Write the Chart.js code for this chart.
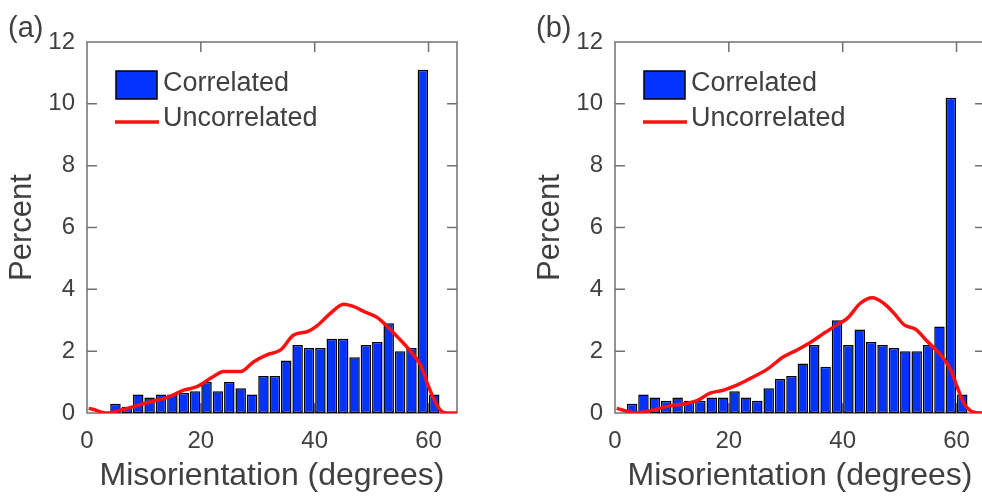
<!DOCTYPE html>
<html>
<head>
<meta charset="utf-8">
<script src="https://cdn.jsdelivr.net/npm/chart.js@4/dist/chart.umd.min.js"></script>
<style>
  html, body { margin: 0; padding: 0; background: #fff; overflow: hidden; width: 982px; height: 497px; }
  canvas { position: absolute; top: 0; }
  #panelA { left: 0; }
  #panelB { left: 528px; }
</style>
</head>
<body>
<canvas id="panelA" width="491" height="497"></canvas>
<canvas id="panelB" width="491" height="497"></canvas>
<script>
// Bin centres (degrees), 2-degree bins
const binCenters = [1, 3, 5, 7, 9, 11, 13, 15, 17, 19, 21, 23, 25, 27, 29, 31,
                    33, 35, 37, 39, 41, 43, 45, 47, 49, 51, 53, 55, 57, 59, 61]

// Panel (a) correlated histogram (percent)
const correlatedA = [0, 0, 0.3, 0.2, 0.6, 0.5, 0.6, 0.6, 0.65, 0.7, 1.0, 0.7, 1.0, 0.8, 0.6, 1.2,
                     1.2, 1.7, 2.2, 2.1, 2.1, 2.4, 2.4, 1.8, 2.2, 2.3, 2.9, 2.0, 2.1, 11.1, 0.6]
// Panel (a) uncorrelated curve
const uncorrXA = [0.3, 1, 3.5, 6.5, 10.5, 14.5, 17, 19.3, 22.2, 24, 27, 29.3, 31.6, 34, 36.3, 38.7,
                  40.4, 42.8, 45.1, 46.9, 48.7, 50.7, 52.2, 54.5, 56.9, 58.6, 59.8, 61, 62.4, 63.3, 65]
const uncorrYA = [0.15, 0.12, 0.0, 0.12, 0.33, 0.53, 0.74, 0.85, 1.18, 1.34, 1.34, 1.66, 1.88, 2.04, 2.52, 2.63,
                  2.82, 3.23, 3.52, 3.44, 3.28, 3.12, 2.9, 2.47, 1.98, 1.55, 0.96, 0.42, 0.04, 0, 0]

// Panel (b) correlated histogram (percent)
const correlatedB = [0, 0.3, 0.6, 0.5, 0.4, 0.5, 0.4, 0.4, 0.5, 0.5, 0.7, 0.5, 0.4, 0.8, 1.1, 1.2,
                     1.6, 2.2, 1.5, 3.0, 2.2, 2.7, 2.3, 2.2, 2.1, 2.0, 2.0, 2.2, 2.8, 10.2, 0.6]
// Panel (b) uncorrelated curve
const uncorrXB = [0.3, 3.8, 6.75, 9.7, 12.6, 14.4, 16.7, 19.1, 21.4, 23.8, 26.7, 29.6, 32, 34.3, 36.7, 39,
                  40.8, 43.1, 45.2, 47.2, 49, 50.8, 52.8, 54.9, 57.2, 59, 60.1, 61.3, 62.8, 64.3, 65]
const uncorrYB = [0.15, 0, 0.1, 0.23, 0.31, 0.4, 0.64, 0.74, 0.9, 1.12, 1.41, 1.82, 2.04, 2.28, 2.58, 2.85,
                  3.06, 3.55, 3.73, 3.55, 3.23, 2.85, 2.71, 2.31, 1.88, 1.39, 0.85, 0.31, 0.04, 0, 0]

const xTicks = [0, 20, 40, 60]
const yTicks = [0, 2, 4, 6, 8, 10, 12]

// Styling
const barBlue = '#0433ff'
const lineRed = '#ff1010'
const axisColor = '#707070'
const textColor = '#404040'
const fontFamily = 'Liberation Sans, Arial, Helvetica, sans-serif'

// Box around the axes with inward ticks on all four sides
const framePlugin = {
    id: 'frame',
    beforeDatasetsDraw(chart) {
        const ctx = chart.ctx
        const a = chart.chartArea
        const xs = chart.scales.x
        const ys = chart.scales.y
        const len = 10
        ctx.save()
        ctx.strokeStyle = axisColor
        ctx.lineWidth = 1.5
        ctx.strokeRect(a.left, a.top, a.right - a.left, a.bottom - a.top)
        ctx.beginPath()
        xs.ticks.forEach(t => {
            const px = xs.getPixelForValue(t.value)
            if (px <= a.left + 1 || px >= a.right - 1) return
            ctx.moveTo(px, a.top); ctx.lineTo(px, a.top + len)
            ctx.moveTo(px, a.bottom); ctx.lineTo(px, a.bottom - len)
        })
        ys.ticks.forEach(t => {
            const py = ys.getPixelForValue(t.value)
            if (py <= a.top + 1 || py >= a.bottom - 1) return
            ctx.moveTo(a.left, py); ctx.lineTo(a.left + len, py)
            ctx.moveTo(a.right, py); ctx.lineTo(a.right - len, py)
        })
        ctx.stroke()
        ctx.restore()
    }
}

// Legend in the upper left of the axes, plus the panel letter
const legendPlugin = {
    id: 'boxLegend',
    afterDraw(chart, args, opts) {
        const ctx = chart.ctx
        const a = chart.chartArea
        const ds = chart.data.datasets
        ctx.save()
        // Correlated (bar swatch)
        ctx.fillStyle = ds[0].backgroundColor
        ctx.fillRect(a.left + 29, a.top + 29, 41, 28)
        ctx.strokeStyle = '#000'
        ctx.lineWidth = 1.5
        ctx.strokeRect(a.left + 29, a.top + 29, 41, 28)
        // Uncorrelated (line swatch)
        ctx.strokeStyle = ds[1].borderColor
        ctx.lineWidth = 3.5
        ctx.beginPath()
        ctx.moveTo(a.left + 28, a.top + 80)
        ctx.lineTo(a.left + 72, a.top + 80)
        ctx.stroke()
        ctx.fillStyle = textColor
        ctx.font = '27px ' + fontFamily
        ctx.textBaseline = 'middle'
        ctx.textAlign = 'left'
        ctx.fillText(ds[0].label, a.left + 76, a.top + 42)
        ctx.fillText(ds[1].label, a.left + 76, a.top + 77)
        // Panel letter
        ctx.font = '29px ' + fontFamily
        ctx.textBaseline = 'alphabetic'
        ctx.fillText(opts.letter, 8, 37)
        ctx.restore()
    }
}

function drawPanel(canvasId, letter, correlated, lineX, lineY) {
    const barData = binCenters.map((c, i) => ({ x: c, y: correlated[i] }))
    const lineData = lineX.map((v, i) => ({ x: v, y: lineY[i] }))

    const config = {
        type: 'bar',
        data: {
            datasets: [{
                type: 'bar',
                label: 'Correlated',
                data: barData,
                backgroundColor: barBlue,
                borderColor: '#000',
                borderWidth: 1.5,
                borderSkipped: false,
                barPercentage: 0.92,
                categoryPercentage: 1.0,
                order: 2
            }, {
                type: 'line',
                label: 'Uncorrelated',
                data: lineData,
                borderColor: lineRed,
                borderWidth: 3.5,
                pointRadius: 0,
                fill: false,
                cubicInterpolationMode: 'monotone',
                order: 1
            }]
        },
        options: {
            responsive: false,
            animation: false,
            layout: {
                padding: { top: 42, right: 34, left: 0, bottom: 0 }
            },
            plugins: {
                legend: { display: false },
                tooltip: { enabled: false },
                boxLegend: { letter: letter }
            },
            scales: {
                x: {
                    type: 'linear',
                    min: 0,
                    max: 65,
                    offset: false,
                    grid: { display: false, drawTicks: false },
                    border: { display: false },
                    afterBuildTicks: (scale) => { scale.ticks = xTicks.map(v => ({ value: v })) },
                    afterFit: (scale) => { scale.height = 84 },
                    ticks: {
                        padding: 14,
                        color: textColor,
                        font: { family: fontFamily, size: 24 }
                    },
                    title: {
                        display: true,
                        text: 'Misorientation (degrees)',
                        color: textColor,
                        padding: { top: 0, bottom: 2 },
                        font: { family: fontFamily, size: 32 }
                    }
                },
                y: {
                    min: 0,
                    max: 12,
                    grid: { display: false, drawTicks: false },
                    border: { display: false },
                    afterBuildTicks: (scale) => { scale.ticks = yTicks.map(v => ({ value: v })) },
                    afterFit: (scale) => { scale.width = 87 },
                    ticks: {
                        padding: 12,
                        color: textColor,
                        font: { family: fontFamily, size: 24 }
                    },
                    title: {
                        display: true,
                        text: 'Percent',
                        color: textColor,
                        padding: { top: 4, bottom: 0 },
                        font: { family: fontFamily, size: 31 }
                    }
                }
            }
        },
        plugins: [framePlugin, legendPlugin]
    }

    const ctx = document.getElementById(canvasId).getContext('2d')
    return new Chart(ctx, config)
}

drawPanel('panelA', '(a)', correlatedA, uncorrXA, uncorrYA)
drawPanel('panelB', '(b)', correlatedB, uncorrXB, uncorrYB)
</script>
</body>
</html>
